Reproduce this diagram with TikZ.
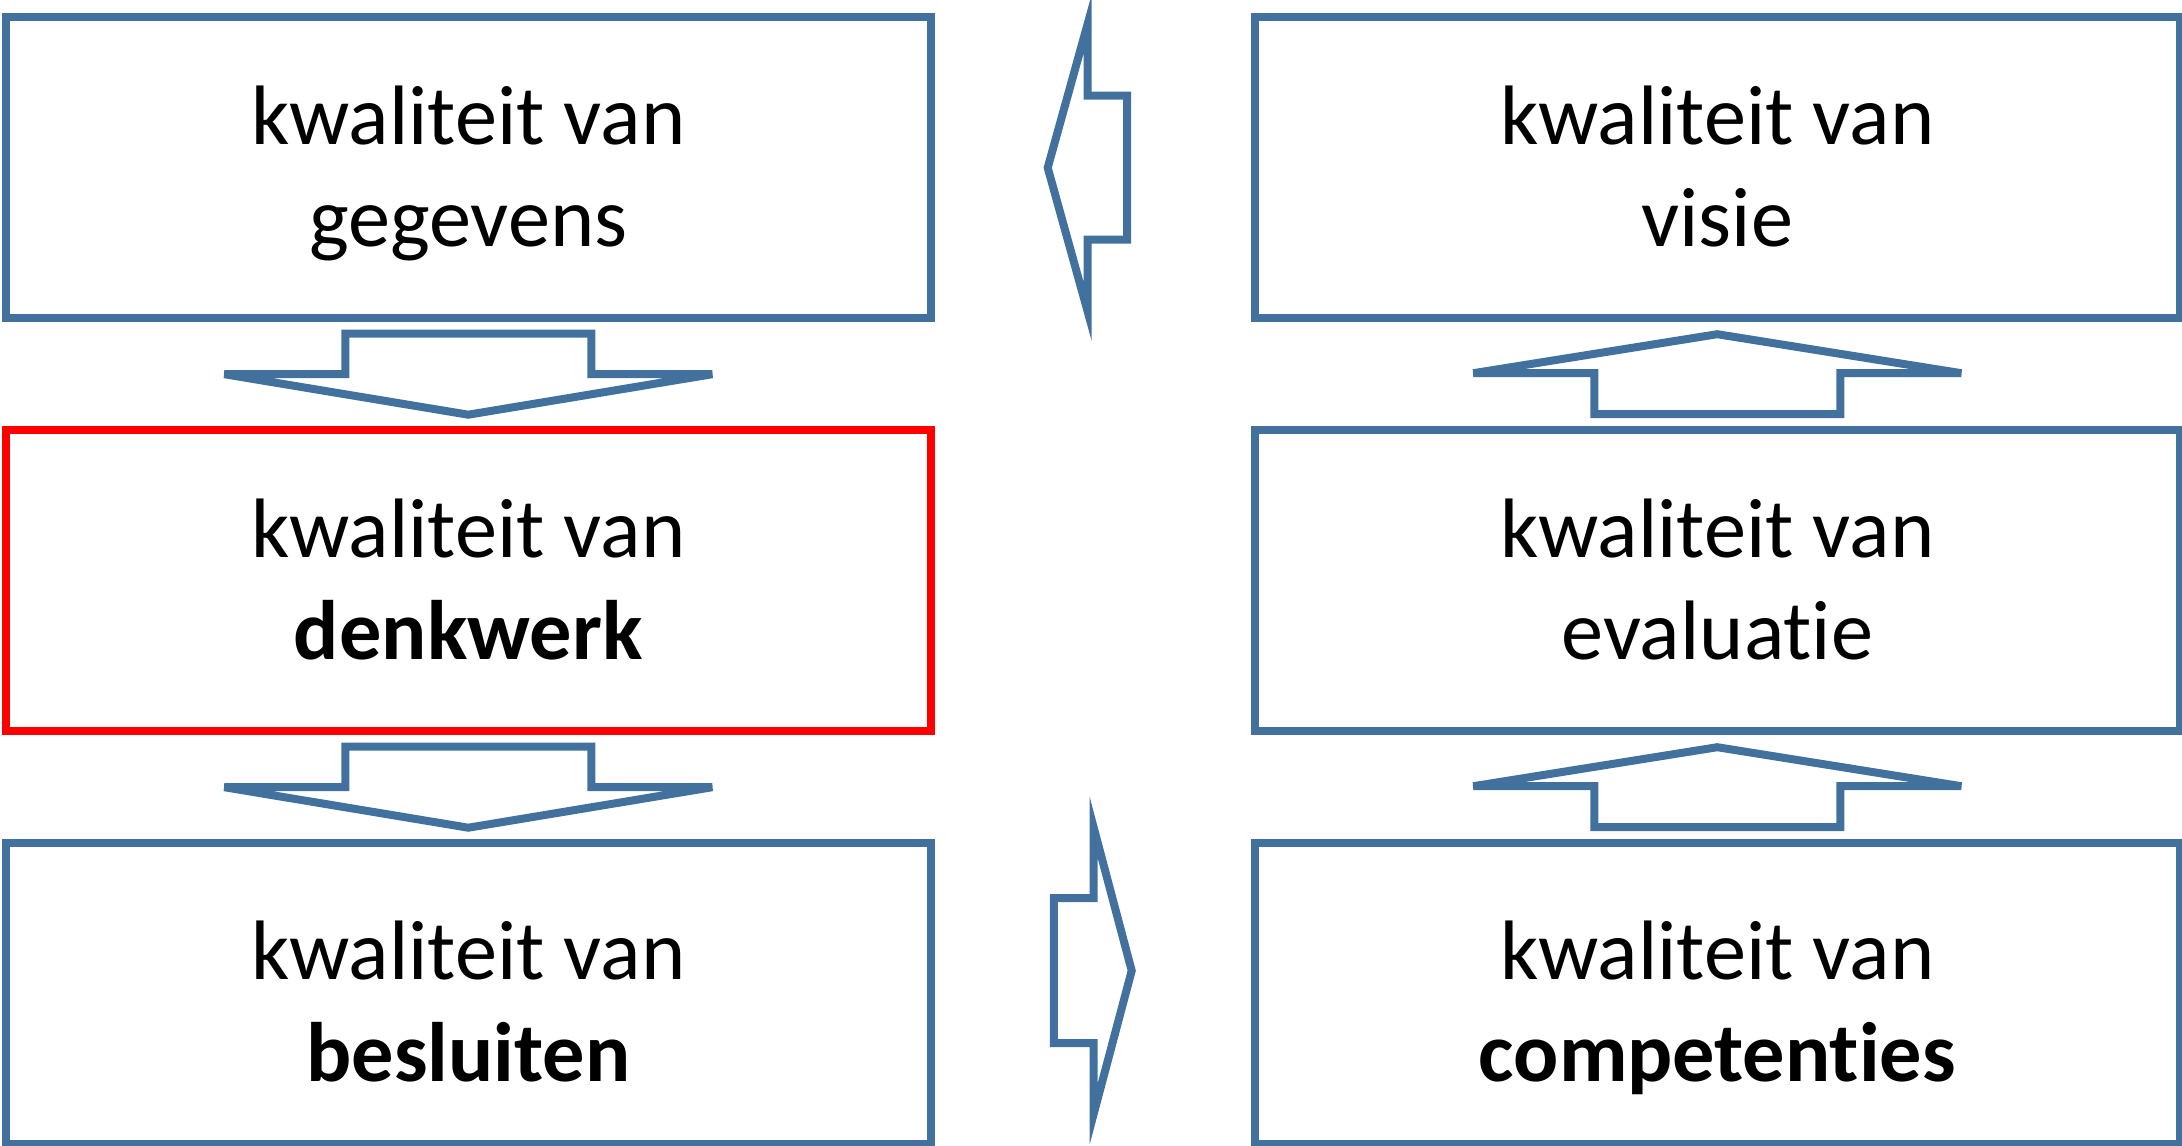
\documentclass[tikz,border=0pt]{standalone}
\usepackage{fontspec}
\setmainfont{Carlito}[Ligatures=NoCommon]
\usetikzlibrary{positioning,calc}
\definecolor{kaderblauw}{HTML}{41719C}

\tikzset{
  kader/.style={draw=kaderblauw, line width=0.08cm, minimum width=9.25cm,
    minimum height=3.01cm, align=center, inner sep=0pt, outer sep=0pt,
    font=\fontsize{24}{29}\selectfont, text height=1.8cm, text depth=0.228cm},
  focus/.style={kader, draw=red},
  onder/.style={kader, text depth=0.052cm},
  % block arrow pointing right: half length, head length, half shaft, half head
  pics/blokpijl/.style n args={4}{code={
    \draw[kaderblauw, line width=0.08cm]
      (-#1,#3) -- (#1-#2,#3) -- (#1-#2,#4) -- (#1,0)
      -- (#1-#2,-#4) -- (#1-#2,-#3) -- (-#1,-#3) -- cycle;
  }}
}

\begin{document}
\begin{tikzpicture}
        \useasboundingbox (0,0) rectangle (21.82,-11.46);
        % boxes
        \node[kader] (geg) at (4.683,-1.677) {kwaliteit van\\gegevens};
        \node[focus, below=1.12cm of geg] (denk) {kwaliteit van\\\textbf{denkwerk}};
        \node[onder, below=1.12cm of denk] (besl) {kwaliteit van\\\textbf{besluiten}};
        \node[kader, right=3.24cm of geg] (visie) {kwaliteit van\\visie};
        \node[kader, right=3.24cm of denk] (eval) {kwaliteit van\\evaluatie};
        \node[onder, right=3.24cm of besl] (comp) {kwaliteit van\\\textbf{competenties}};
        % arrows
        \pic[rotate=-90] at ($(geg.south)!0.5!(denk.north)$) {blokpijl={0.405}{0.405}{1.23}{2.44}};
        \pic[rotate=-90] at ($(denk.south)!0.5!(besl.north)$) {blokpijl={0.405}{0.405}{1.23}{2.44}};
        \pic[rotate=90] at ($(comp.north)!0.5!(eval.south)$) {blokpijl={0.40}{0.39}{1.23}{2.44}};
        \pic[rotate=90] at ($(eval.north)!0.5!(visie.south)$) {blokpijl={0.40}{0.39}{1.23}{2.44}};
        \pic[rotate=180, xshift=0.054cm] at ($(visie.west)!0.5!(geg.east)$) {blokpijl={0.397}{0.40}{0.72}{1.44}};
        \pic[yshift=0.23cm] at ($(besl.east)!0.5!(comp.west)$) {blokpijl={0.389}{0.38}{0.725}{1.43}};
\end{tikzpicture}
\end{document}
